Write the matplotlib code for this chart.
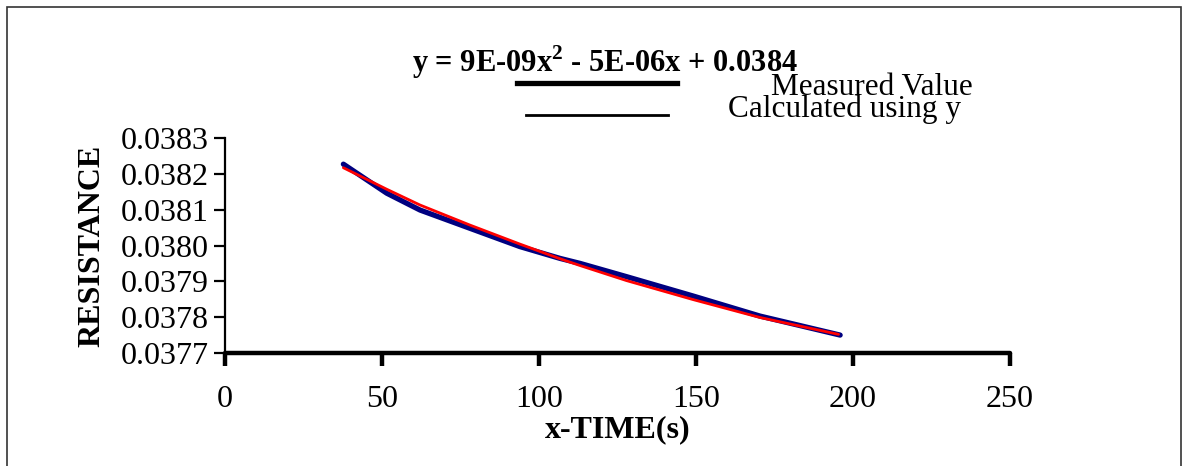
"""Resistance vs time: measured curve and quadratic fit."""

import matplotlib
matplotlib.use("Agg")
import matplotlib.pyplot as plt
from matplotlib.lines import Line2D
from matplotlib.patches import Rectangle

plt.rcParams["font.family"] = ["Liberation Serif", "DejaVu Serif"]
plt.rcParams["mathtext.fontset"] = "custom"
plt.rcParams["mathtext.rm"] = "Liberation Serif:bold"
plt.rcParams["mathtext.bf"] = "Liberation Serif:bold"

# measured resistance (navy)
meas_time = [37.7, 51.5, 62.1, 78.0, 93.9, 106.7, 113.1, 127.9, 149.1, 170.4, 195.9]
meas_res = [0.038227, 0.038146, 0.038099, 0.038048, 0.037997, 0.037964,
            0.037950, 0.037913, 0.037859, 0.037803, 0.037750]

# calculated from the fitted y (red)
calc_time = [37.7, 51.5, 62.1, 78.0, 93.9, 106.7, 113.1, 127.9, 149.1, 170.4, 195.4]
calc_res = [0.038217, 0.038157, 0.038113, 0.038057, 0.038004, 0.037963,
            0.037944, 0.037902, 0.037849, 0.037799, 0.037752]

x_ticks = [0, 50, 100, 150, 200, 250]
y_ticks = [0.0377, 0.0378, 0.0379, 0.0380, 0.0381, 0.0382, 0.0383]

W, H = 1185, 466
FS = 23


def fx(px):
    return px / W


def fy(py):
    return 1 - py / H


fig = plt.figure(figsize=(W / 100, H / 100), dpi=100)
ax = fig.add_axes([fx(225), fy(353), fx(1010) - fx(225), fy(138) - fy(353)])

ax.plot(meas_time, meas_res, color="#000080", linewidth=3.8,
        solid_capstyle="round", solid_joinstyle="round", zorder=3)
ax.plot(calc_time, calc_res, color="#FF0000", linewidth=2.0,
        solid_capstyle="round", solid_joinstyle="round", zorder=4)

ax.set_xlim(0, 250)
ax.set_ylim(0.0377, 0.0383)
ax.set_xticks(x_ticks)
ax.set_xticklabels([str(v) for v in x_ticks])
ax.set_yticks(y_ticks)
ax.set_yticklabels([f"{v:.4f}" for v in y_ticks])

for s in ("top", "right"):
    ax.spines[s].set_visible(False)
ax.spines["left"].set_linewidth(1.6)
ax.spines["bottom"].set_linewidth(3.2)
ax.spines["bottom"].set_capstyle("round")
ax.tick_params(axis="y", direction="out", length=8, width=1.6, labelsize=FS, pad=4)
ax.tick_params(axis="x", direction="out", length=9, width=3.2, labelsize=FS, pad=14)
for t in ax.xaxis.get_ticklines():
    t.set_solid_capstyle("round")

ax.set_xlabel("x-TIME(s)", fontsize=FS, fontweight="bold", labelpad=1)
ax.set_ylabel("RESISTANCE", fontsize=FS, fontweight="bold", labelpad=10)

# equation title and hand-placed legend
fig.text(fx(412), fy(72), r"y = 9E-09x$^{\mathbf{2}}$ - 5E-06x + 0.0384",
         fontsize=22, fontweight="bold", ha="left", va="baseline")
fig.add_artist(Line2D([fx(517), fx(677)], [fy(83), fy(83)], color="black",
                      linewidth=3.8, transform=fig.transFigure))
fig.add_artist(Line2D([fx(526), fx(668)], [fy(115), fy(115)], color="black",
                      linewidth=2.0, transform=fig.transFigure))
fig.text(fx(973), fy(95), "Measured Value", fontsize=22.5, ha="right", va="baseline")
fig.text(fx(961), fy(117), "Calculated using y", fontsize=22.5, ha="right", va="baseline")

# outer frame
fig.add_artist(Rectangle((fx(7), -0.02), fx(1181) - fx(7), fy(7) + 0.02,
                         fill=False, edgecolor="#333333", linewidth=1.2,
                         transform=fig.transFigure))

fig.savefig("out.png", dpi=100)
